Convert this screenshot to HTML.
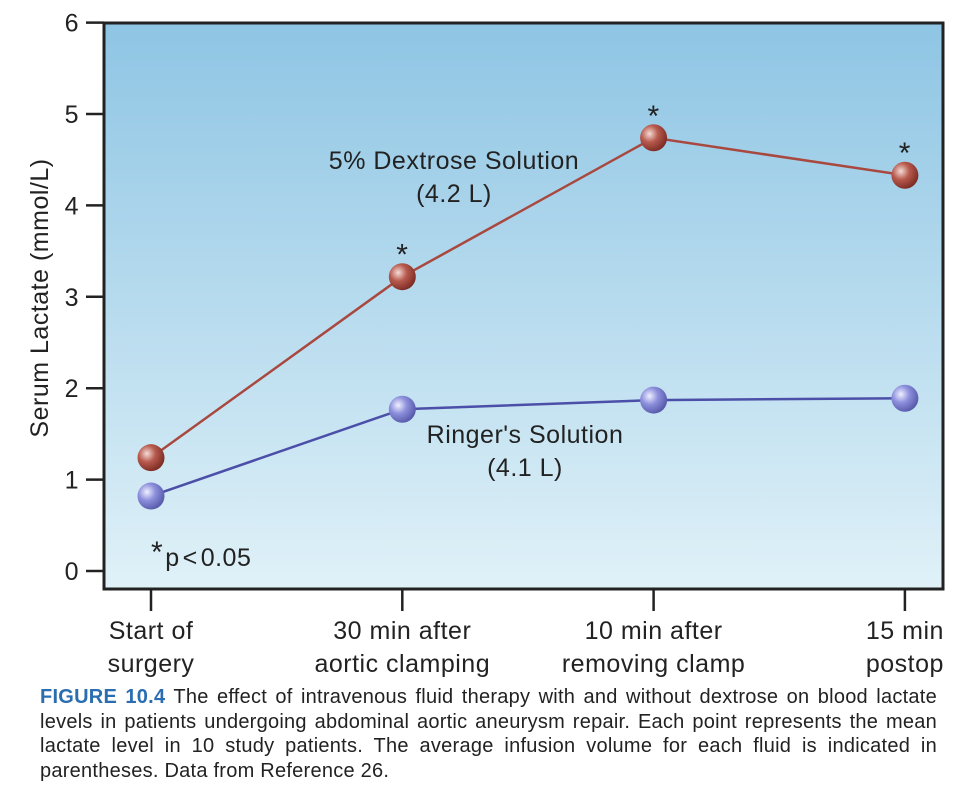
<!DOCTYPE html>
<html><head><meta charset="utf-8"><style>
body{margin:0;background:#fff;width:962px;height:787px;overflow:hidden;font-family:"Liberation Sans",Arial,sans-serif}
#cap{position:absolute;left:40px;top:685px;width:897px;font-size:20px;letter-spacing:0.25px;line-height:24.5px;color:#222;text-align:justify}
#cap b{color:#2a6db0}
svg text{letter-spacing:0.5px}
</style></head><body>
<svg id="chart" width="962" height="690" style="position:absolute;left:0;top:0">
<defs>
<linearGradient id="bg" x1="0" y1="0" x2="0" y2="1"><stop offset="0" stop-color="#8ec5e4"/><stop offset="1" stop-color="#e0f1f8"/></linearGradient>
<radialGradient id="rb" cx="0.35" cy="0.35" r="0.7"><stop offset="0" stop-color="#f4dcd6"/><stop offset="0.45" stop-color="#b85a4e"/><stop offset="1" stop-color="#7a2a22"/></radialGradient>
<radialGradient id="bb" cx="0.35" cy="0.35" r="0.7"><stop offset="0" stop-color="#f0f0ff"/><stop offset="0.45" stop-color="#8d90dc"/><stop offset="1" stop-color="#5558a8"/></radialGradient>
</defs>
<rect x="104" y="23" width="839" height="566" fill="url(#bg)" stroke="#222" stroke-width="3"/>
<g id="axes"></g><g id="marks"></g>
<text transform="translate(48,298) rotate(-90)" text-anchor="middle" font-size="25" fill="#222">Serum Lactate (mmol/L)</text>
<text x="454" y="169" text-anchor="middle" font-size="25" fill="#222">5% Dextrose Solution</text>
<text x="454" y="202" text-anchor="middle" font-size="25" fill="#222">(4.2 L)</text>
<text x="525" y="443" text-anchor="middle" font-size="25" fill="#222">Ringer's Solution</text>
<text x="525" y="476" text-anchor="middle" font-size="25" fill="#222">(4.1 L)</text>
<text x="151" y="566" font-size="25" fill="#222"><tspan font-size="30" dy="-4">*</tspan><tspan dx="2" dy="4">p</tspan><tspan dx="3">&lt;</tspan><tspan dx="3">0.05</tspan></text>
</svg>
<div id="cap"><b>FIGURE 10.4</b> The effect of intravenous fluid therapy with and without dextrose on blood lactate levels in patients undergoing abdominal aortic aneurysm repair. Each point represents the mean lactate level in 10 study patients. The average infusion volume for each fluid is indicated in parentheses. Data from Reference 26.</div>
<script>
const categories=[["Start of","surgery"],["30 min after","aortic clamping"],["10 min after","removing clamp"],["15 min","postop"]];
const dextrose=[1.24,3.22,4.74,4.33];
const ringer=[0.82,1.77,1.87,1.89];
const significant=[false,true,true,true];
const yTicks=[0,1,2,3,4,5,6];
const NS="http://www.w3.org/2000/svg";
const x=i=>151+i*251.3;
const y=v=>571-v*91.4;
function mk(t,a,p){const e=document.createElementNS(NS,t);for(const k in a)e.setAttribute(k,a[k]);p.appendChild(e);return e;}
const ax=document.getElementById('axes'),mg=document.getElementById('marks');
yTicks.forEach(v=>{
 const l=mk('line',{x1:86,x2:104,y1:y(v),y2:y(v),stroke:'#222','stroke-width':2.5},ax);
 
 
 const t=mk('text',{x:79,y:y(v)+9,'text-anchor':'end','font-size':25,fill:'#222'},ax);t.textContent=v;
 
 
});
categories.forEach((c,i)=>{
 const l=mk('line',{x1:x(i),x2:x(i),y1:589,y2:611,stroke:'#222','stroke-width':2.5},ax);
 
 
 c.forEach((s,j)=>{const t=mk('text',{x:x(i),y:639+j*33,'text-anchor':'middle','font-size':25,fill:'#222'},ax);t.textContent=s;
 
 });
});
function series(d,col,fill,name){
 const p=mk('polyline',{points:d.map((v,i)=>x(i)+','+y(v)).join(' '),fill:'none',stroke:col,'stroke-width':2.5},mg);
 
 
 d.forEach((v,i)=>{const c=mk('circle',{cx:x(i),cy:y(v),r:13.5,fill:fill},mg);
 
 });
}
series(ringer,'#4b4fa8','url(#bb)','ringer');
series(dextrose,'#a8483e','url(#rb)','dextrose');
dextrose.forEach((v,i)=>{if(significant[i]){const t=mk('text',{x:x(i),y:y(v)-12,'text-anchor':'middle','font-size':30,fill:'#222'},mg);t.textContent='*';
 
 }});
</script>
</body></html>
